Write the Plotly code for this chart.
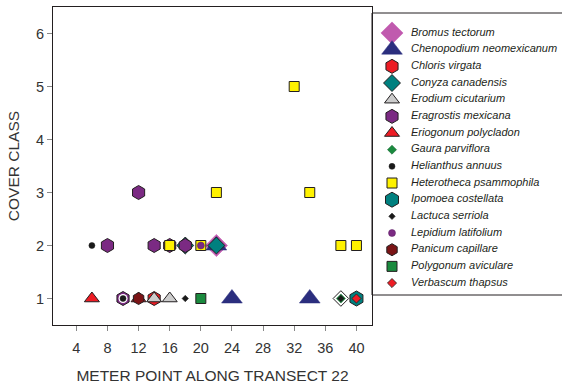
import plotly.graph_objects as go

# ---- data ----
species = [
    "Bromus tectorum", "Chenopodium neomexicanum", "Chloris virgata",
    "Conyza canadensis", "Erodium cicutarium", "Eragrostis mexicana",
    "Eriogonum polycladon", "Gaura parviflora", "Helianthus annuus",
    "Heterotheca psammophila", "Ipomoea costellata", "Lactuca serriola",
    "Lepidium latifolium", "Panicum capillare", "Polygonum aviculare",
    "Verbascum thapsus",
]
bromus_x, bromus_y = [22], [2]
chenopodium_x, chenopodium_y = [22, 24, 34], [2, 1, 1]
chloris_x, chloris_y = [14], [1]
conyza_x, conyza_y = [18, 22], [2, 2]
erodium_x, erodium_y = [14, 16], [1, 1]
eragrostis_x, eragrostis_y = [8, 12, 14, 16, 18, 10], [2, 3, 2, 2, 2, 1]
eriogonum_x, eriogonum_y = [6, 12], [1, 1]
gaura_x, gaura_y = [38], [1]
helianthus_x, helianthus_y = [6, 10], [2, 1]
heterotheca_x, heterotheca_y = [16, 20, 22, 32, 34, 38, 40], [2, 2, 3, 5, 3, 2, 2]
ipomoea_x, ipomoea_y = [40], [1]
lactuca_x, lactuca_y = [18, 38], [1, 1]
lepidium_x, lepidium_y = [20], [2]
panicum_x, panicum_y = [12], [1]
polygonum_x, polygonum_y = [20], [1]
verbascum_x, verbascum_y = [40], [1]
# white overlap halos seen in the picture (not species)
halo_x, halo_y = [10, 38], [1, 1]

x_ticks = [4, 8, 12, 16, 20, 24, 28, 32, 36, 40]
y_ticks = [1, 2, 3, 4, 5, 6]

data = {
    "Bromus tectorum": (bromus_x, bromus_y),
    "Chenopodium neomexicanum": (chenopodium_x, chenopodium_y),
    "Chloris virgata": (chloris_x, chloris_y),
    "Conyza canadensis": (conyza_x, conyza_y),
    "Erodium cicutarium": (erodium_x, erodium_y),
    "Eragrostis mexicana": (eragrostis_x, eragrostis_y),
    "Eriogonum polycladon": (eriogonum_x, eriogonum_y),
    "Gaura parviflora": (gaura_x, gaura_y),
    "Helianthus annuus": (helianthus_x, helianthus_y),
    "Heterotheca psammophila": (heterotheca_x, heterotheca_y),
    "Ipomoea costellata": (ipomoea_x, ipomoea_y),
    "Lactuca serriola": (lactuca_x, lactuca_y),
    "Lepidium latifolium": (lepidium_x, lepidium_y),
    "Panicum capillare": (panicum_x, panicum_y),
    "Polygonum aviculare": (polygonum_x, polygonum_y),
    "Verbascum thapsus": (verbascum_x, verbascum_y),
}

# ---- styles: symbol, size, fill, line colour, line width ----
OUT = "#231f20"
styles = {
    "Bromus tectorum": ("diamond", 17, "#c05aae", "#d07cc2", 1),
    "Chenopodium neomexicanum": ("triangle-up", 18, "#2b2e7e", "#2b2e7e", 0.5),
    "Chloris virgata": ("hexagon", 14, "#ed1c24", OUT, 1),
    "Conyza canadensis": ("diamond", 13, "#00807f", OUT, 1),
    "Erodium cicutarium": ("triangle-up", 13, "#cccccc", OUT, 1),
    "Eragrostis mexicana": ("hexagon", 14, "#7b2a83", OUT, 1),
    "Eriogonum polycladon": ("triangle-up", 13, "#ed1c24", OUT, 1),
    "Gaura parviflora": ("diamond", 7, "#1a8a3e", "#0f5e2a", 0.5),
    "Helianthus annuus": ("circle", 6, "#1a1a1a", "#1a1a1a", 0.5),
    "Heterotheca psammophila": ("square", 10, "#fff200", OUT, 1),
    "Ipomoea costellata": ("hexagon", 15, "#00807f", OUT, 1),
    "Lactuca serriola": ("diamond", 5, "#1a1a1a", "#1a1a1a", 0.5),
    "Lepidium latifolium": ("circle", 7, "#7b2a83", "#5a1e60", 0.5),
    "Panicum capillare": ("hexagon", 12, "#7b1416", OUT, 1),
    "Polygonum aviculare": ("square", 10, "#1a8a3e", OUT, 1),
    "Verbascum thapsus": ("diamond", 7, "#ed1c24", OUT, 0.8),
}

FONT = "Liberation Sans, Arial"
W, H = 562, 388
ML, MT, MB = 53, 7, 63
PLOT_RIGHT = 372            # pixel x of plot's right border / legend's left edge
split = (PLOT_RIGHT - ML) / (W - ML)
plot_h = H - MT - MB

fig = go.Figure()
for name in species:
    xs, ys = data[name]
    sym, size, fill, lc, lw = styles[name]
    fig.add_trace(go.Scatter(
        x=xs, y=ys, mode="markers", name=name, showlegend=False,
        marker=dict(symbol=sym, size=size, color=fill, opacity=1,
                    line=dict(color=lc, width=lw)),
    ))
    if name == "Eriogonum polycladon":
        fig.add_trace(go.Scatter(
            x=halo_x, y=halo_y, mode="markers", showlegend=False,
            marker=dict(symbol=["circle", "diamond"], size=[9, 12],
                        color="white", opacity=1,
                        line=dict(color=["white", OUT], width=[0, 1])),
        ))

# ---- custom legend drawn on a hidden second axis pair ----
idx = list(range(len(species)))
fig.add_trace(go.Scatter(
    x=[20] * len(species), y=idx, mode="markers", xaxis="x2", yaxis="y2",
    showlegend=False, hoverinfo="skip",
    marker=dict(symbol=[styles[s][0] for s in species],
                size=[styles[s][1] for s in species],
                color=[styles[s][2] for s in species], opacity=1,
                line=dict(color=[styles[s][3] for s in species],
                          width=[styles[s][4] for s in species])),
))
fig.add_trace(go.Scatter(
    x=[39] * len(species), y=idx, mode="text", xaxis="x2", yaxis="y2",
    showlegend=False, hoverinfo="skip",
    text=["<i>" + s + "</i>" for s in species], textposition="middle right",
    textfont=dict(family=FONT, size=11, color="#231f20"),
))

row_px = 16.67
first_row_px = 33 - MT
top_idx = -first_row_px / row_px
bot_idx = top_idx + plot_h / row_px

axis_common = dict(
    showline=True, linecolor="#231f20", linewidth=1, mirror=True,
    ticks="outside", ticklen=5, tickcolor="#888888", tickwidth=1,
    showgrid=False, zeroline=False, automargin=False,
    tickfont=dict(family=FONT, size=14.5, color="#333333"),
    title_font=dict(family=FONT, size=15.5, color="#333333"),
)

fig.update_layout(
    width=W, height=H,
    margin=dict(l=ML, r=0, t=MT, b=MB),
    paper_bgcolor="white", plot_bgcolor="white",
    xaxis=dict(domain=[0, split], range=[1, 42], tickvals=x_ticks,
               title_text="METER POINT ALONG TRANSECT 22",
               title_standoff=14, ticklabelstandoff=5, **axis_common),
    yaxis=dict(range=[0.5, 6.5], tickvals=y_ticks, title_text="COVER CLASS",
               title_standoff=12, **axis_common),
    xaxis2=dict(domain=[split, 1], range=[0, W - PLOT_RIGHT], visible=False,
                anchor="y2"),
    yaxis2=dict(domain=[0, 1], range=[bot_idx, top_idx], visible=False,
                anchor="x2"),
    shapes=[dict(type="rect", xref="paper", yref="paper",
                 x0=split, x1=1.02,
                 y0=(H - MB - 295) / plot_h, y1=(H - MB - 13) / plot_h,
                 line=dict(color="#231f20", width=1), fillcolor="rgba(0,0,0,0)")],
    showlegend=False,
)

fig.write_html("out.html", config={"displayModeBar": False},
               post_script="document.body.style.margin='0px';document.body.style.overflow='hidden';")
